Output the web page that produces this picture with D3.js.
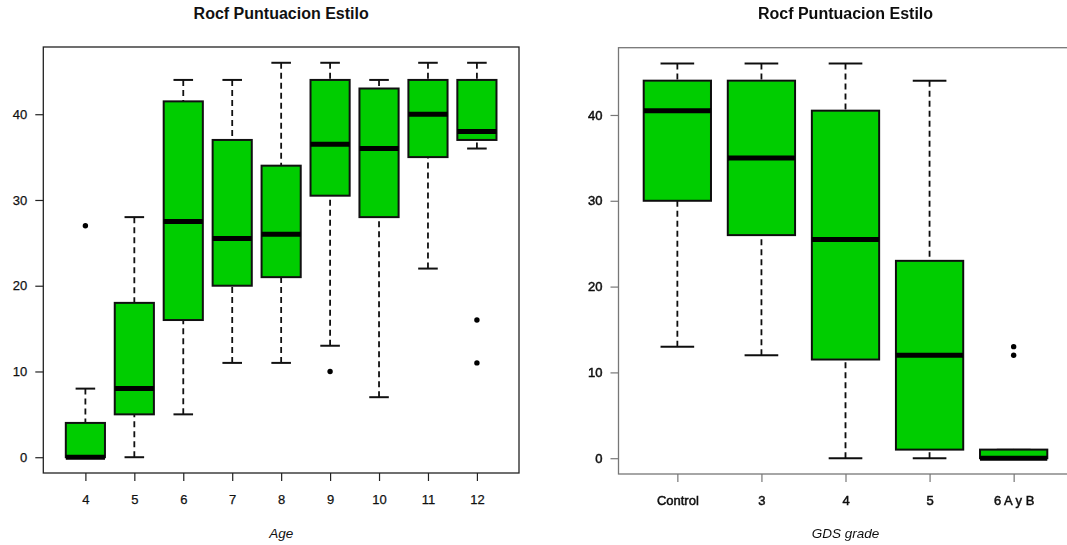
<!DOCTYPE html>
<html>
<head>
<meta charset="utf-8">
<script src="https://cdn.jsdelivr.net/npm/d3@7"></script>
<style>
  html, body { margin: 0; padding: 0; background: #fff; }
  svg text { font-family: "Liberation Sans", Arial, sans-serif; fill: #111; }
</style>
</head>
<body>
<svg id="chart" width="1067" height="545"></svg>
<script>
// ROCF style score by age
const ageCats = ["4", "5", "6", "7", "8", "9", "10", "11", "12"];
const ageLowWhisker = [0, 0, 5, 11, 11, 13, 7, 22, 36];
const ageQ1 = [0, 5, 16, 20, 21, 30.5, 28, 35, 37];
const ageMedian = [0, 8, 27.5, 25.5, 26, 36.5, 36, 40, 38];
const ageQ3 = [4, 18, 41.5, 37, 34, 44, 43, 44, 44];
const ageHighWhisker = [8, 28, 44, 44, 46, 46, 44, 46, 46];
const ageOutliers = [[27], [], [], [], [], [10], [], [], [16, 11]];

// ROCF style score by GDS grade
const gdsCats = ["Control", "3", "4", "5", "6 A y B"];
const gdsLowWhisker = [13, 12, 0, 0, 0];
const gdsQ1 = [30, 26, 11.5, 1, 0];
const gdsMedian = [40.5, 35, 25.5, 12, 0];
const gdsQ3 = [44, 44, 40.5, 23, 1];
const gdsHighWhisker = [46, 46, 46, 44, 1];
const gdsOutliers = [[], [], [], [], [13, 12]];

const yTicks = [0, 10, 20, 30, 40];
const titleText = "Rocf Puntuacion Estilo";

const svg = d3.select("#chart");
svg.append("rect").attr("width", 1067).attr("height", 545).attr("fill", "#fff");

const defs = svg.append("defs");
defs.append("filter").attr("id", "soft")
  .attr("x", "-5%").attr("y", "-5%").attr("width", "110%").attr("height", "110%")
  .append("feGaussianBlur").attr("stdDeviation", 0.45);

// R-style y range: data range padded by 4% on each side
const yMin = 0, yMax = 46, yPad = (yMax - yMin) * 0.04;

function drawPanel(opts) {
  const { left, right, top, bottom, cats, low, q1, med, q3, high, outliers, xTitle, frameColor, soft, textStroke } = opts;
  const n = cats.length;
  const g = svg.append("g");
  if (soft) g.attr("filter", "url(#soft)");

  const xPad = n * 0.04;
  const x = d3.scaleLinear().domain([0.5 - xPad, n + 0.5 + xPad]).range([left, right]);
  const y = d3.scaleLinear().domain([yMin - yPad, yMax + yPad]).range([bottom, top]);
  const halfBox = x(1.4) - x(1);
  const halfStaple = x(1.2) - x(1);

  // frame
  g.append("rect")
    .attr("x", left).attr("y", top)
    .attr("width", right - left).attr("height", bottom - top)
    .attr("fill", "none").attr("stroke", frameColor).attr("stroke-width", 1.3);

  // y axis
  const yAxis = d3.axisLeft(y).tickValues(yTicks).tickSize(8).tickPadding(8);
  const ya = g.append("g").attr("transform", `translate(${left},0)`).call(yAxis);
  ya.select(".domain").remove();
  ya.selectAll(".tick line").attr("stroke", frameColor).attr("stroke-width", 1.2);
  ya.selectAll(".tick text").attr("font-size", 13).attr("fill", "#111")
    .attr("font-family", "Liberation Sans, Arial, sans-serif");

  // x axis
  const xAxis = d3.axisBottom(x).tickValues(d3.range(1, n + 1))
    .tickFormat(i => cats[i - 1]).tickSize(8).tickPadding(14);
  const xa = g.append("g").attr("transform", `translate(0,${bottom})`).call(xAxis);
  xa.select(".domain").remove();
  xa.selectAll(".tick line").attr("stroke", frameColor).attr("stroke-width", 1.2);
  xa.selectAll(".tick text").attr("font-size", 13).attr("fill", "#111")
    .attr("font-family", "Liberation Sans, Arial, sans-serif");

  if (textStroke) {
    g.selectAll(".tick text").attr("stroke", "#111").attr("stroke-width", textStroke);
  }

  const idx = d3.range(n);
  const boxes = g.append("g");

  // whiskers (dashed, drawn from whisker end toward the box)
  boxes.selectAll("line.wh-up").data(idx).join("line")
    .attr("x1", i => x(i + 1)).attr("x2", i => x(i + 1))
    .attr("y1", i => y(high[i])).attr("y2", i => y(q3[i]))
    .attr("stroke", "#111").attr("stroke-width", 1.8).attr("stroke-dasharray", "6,4");
  boxes.selectAll("line.wh-dn").data(idx).join("line")
    .attr("x1", i => x(i + 1)).attr("x2", i => x(i + 1))
    .attr("y1", i => y(low[i])).attr("y2", i => y(q1[i]))
    .attr("stroke", "#111").attr("stroke-width", 1.8).attr("stroke-dasharray", "6,4");

  // staples
  [high, low].forEach(arr => {
    boxes.selectAll(null).data(idx).join("line")
      .attr("x1", i => x(i + 1) - halfStaple).attr("x2", i => x(i + 1) + halfStaple)
      .attr("y1", i => y(arr[i])).attr("y2", i => y(arr[i]))
      .attr("stroke", "#111").attr("stroke-width", 2);
  });

  // boxes
  boxes.selectAll("rect.box").data(idx).join("rect")
    .attr("x", i => x(i + 1) - halfBox).attr("width", 2 * halfBox)
    .attr("y", i => y(q3[i])).attr("height", i => y(q1[i]) - y(q3[i]))
    .attr("fill", "#00CD00").attr("stroke", "#111").attr("stroke-width", 2);

  // medians
  boxes.selectAll("line.med").data(idx).join("line")
    .attr("x1", i => x(i + 1) - halfBox).attr("x2", i => x(i + 1) + halfBox)
    .attr("y1", i => y(med[i])).attr("y2", i => y(med[i]))
    .attr("stroke", "#000").attr("stroke-width", 5);

  // outliers
  const pts = idx.flatMap(i => outliers[i].map(v => ({ i, v })));
  boxes.selectAll("circle").data(pts).join("circle")
    .attr("cx", d => x(d.i + 1)).attr("cy", d => y(d.v)).attr("r", 2.7)
    .attr("fill", "#000");

  // titles
  const cx = (left + right) / 2;
  g.append("text").attr("x", cx).attr("y", 19).attr("text-anchor", "middle")
    .attr("font-size", 16).attr("font-weight", "bold").text(titleText);
  g.append("text").attr("x", cx).attr("y", 538).attr("text-anchor", "middle")
    .attr("font-size", 13.5).attr("font-style", "italic").text(xTitle);
}

drawPanel({
  left: 43.3, right: 519, top: 47, bottom: 473,
  cats: ageCats, low: ageLowWhisker, q1: ageQ1, med: ageMedian, q3: ageQ3,
  high: ageHighWhisker, outliers: ageOutliers, xTitle: "Age",
  frameColor: "#222", soft: false, textStroke: 0.25
});

drawPanel({
  left: 618.5, right: 1072.5, top: 47.7, bottom: 474,
  cats: gdsCats, low: gdsLowWhisker, q1: gdsQ1, med: gdsMedian, q3: gdsQ3,
  high: gdsHighWhisker, outliers: gdsOutliers, xTitle: "GDS grade",
  frameColor: "#777", soft: true, textStroke: 0.5
});
</script>
</body>
</html>
